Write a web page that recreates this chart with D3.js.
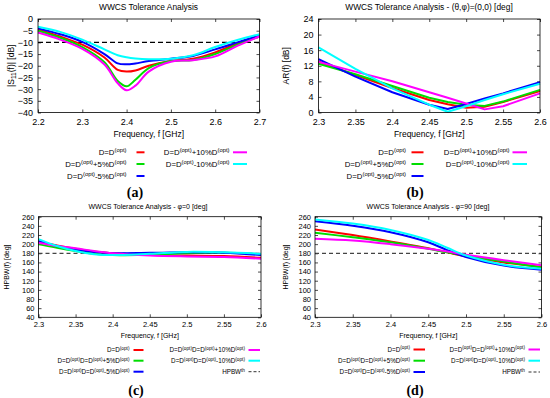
<!DOCTYPE html>
<html><head><meta charset="utf-8">
<script src="https://cdn.jsdelivr.net/npm/d3@7"></script>
<style>
body{margin:0;background:#fff}
svg{display:block}
text{fill:#000}
</style>
</head><body>
<svg id="chart" width="550" height="398" font-family="'Liberation Sans',Arial,Helvetica,sans-serif"></svg>
<script>
// ---------------- DATA ----------------
const seriesColors = ["#ff0000", "#00dd00", "#0000ff", "#ff00ff", "#00ffff"];
const legendLabelsTop = ["D=D{(opt)}", "D=D{(opt)}+5%D{(opt)}", "D=D{(opt)}-5%D{(opt)}", "D=D{(opt)}+10%D{(opt)}", "D=D{(opt)}-10%D{(opt)}"];
const legendLabelsBottom = ["D=D{(opt)}", "D=D{(opt)}D=D{(opt)}+5%D{(opt)}", "D=D{(opt)}D=D{(opt)}-5%D{(opt)}", "D=D{(opt)}D=D{(opt)}+10%D{(opt)}", "D=D{(opt)}D=D{(opt)}-10%D{(opt)}"];
const thresholdLabel = "HPBW{th}";

// (a) |S11| vs frequency
const freqA = [2.2, 2.25, 2.3, 2.35, 2.38, 2.4, 2.42, 2.45, 2.5, 2.55, 2.6, 2.65, 2.7];
const s11_D     = [-4.5, -7.5, -11.0, -16.5, -21.8, -22.5, -22.0, -20.0, -18.0, -17.0, -14.3, -10.5, -7.5];
const s11_p5    = [-5.0, -8.0, -12.0, -18.5, -26.5, -28.8, -26.0, -21.0, -18.0, -17.5, -15.0, -11.0, -7.5];
const s11_m5    = [-4.0, -6.5, -9.8, -15.0, -19.0, -19.4, -19.0, -18.0, -17.0, -15.8, -13.0, -10.0, -7.0];
const s11_p10   = [-5.8, -8.8, -12.8, -19.5, -27.5, -30.5, -28.5, -22.5, -18.3, -17.6, -16.0, -11.5, -7.5];
const s11_m10   = [-3.3, -5.5, -8.8, -13.0, -15.5, -16.4, -16.9, -17.2, -17.0, -15.5, -12.0, -9.0, -6.5];
const s11Threshold = -10;
const xTicksA = [2.2, 2.3, 2.4, 2.5, 2.6, 2.7];
const yTicksA = [0, -5, -10, -15, -20, -25, -30, -35, -40];

// (b) AR vs frequency
const freqB = [2.3, 2.35, 2.4, 2.45, 2.475, 2.5, 2.525, 2.55, 2.6];
const ar_D   = [13.1, 9.6, 6.3, 3.2, 2.1, 1.2, 1.5, 2.7, 5.5];
const ar_p5  = [12.5, 9.8, 6.8, 3.8, 2.7, 2.0, 1.7, 2.8, 5.8];
const ar_m5  = [13.7, 9.2, 5.2, 2.0, 0.9, 2.2, 3.6, 4.9, 7.8];
const ar_p10 = [13.0, 10.5, 8.0, 5.2, 3.8, 2.3, 0.8, 1.6, 4.9];
const ar_m10 = [16.7, 11.2, 6.2, 2.0, 0.2, 1.6, 3.2, 4.7, 7.4];
const xTicksB = [2.3, 2.35, 2.4, 2.45, 2.5, 2.55, 2.6];
const yTicksB = [0, 4, 8, 12, 16, 20, 24];

// (c) HPBW phi=0
const freqC = [2.3, 2.325, 2.35, 2.375, 2.4, 2.45, 2.5, 2.55, 2.6];
const hc_D   = [205, 197, 190, 184, 180, 176, 175, 174, 170];
const hc_p5  = [200, 192, 185, 179, 176, 177, 180, 181, 178];
const hc_m5  = [207, 196, 188, 183, 180, 181, 182, 181, 176];
const hc_p10 = [203, 196, 191, 185, 180, 175, 173, 172, 168];
const hc_m10 = [211, 196, 185, 178, 176, 179, 183, 182, 179];

// (d) HPBW phi=90
const freqD = [2.3, 2.35, 2.4, 2.45, 2.475, 2.5, 2.55, 2.6];
const hd_D   = [232, 220, 206, 191, 182, 173, 160, 150];
const hd_p5  = [225, 215, 204, 190, 182, 175, 162, 149];
const hd_m5  = [250, 240, 226, 204, 187, 172, 153, 144];
const hd_p10 = [212, 208, 200, 190, 184, 177, 165, 154];
const hd_m10 = [254, 245, 231, 209, 192, 175, 155, 146];
const hpbwThreshold = 180;
const xTicksCD = [2.3, 2.35, 2.4, 2.45, 2.5, 2.55, 2.6];
const yTicksCD = [40, 60, 80, 100, 120, 140, 160, 180, 200, 220, 240, 260];

// ---------------- DRAW ----------------
const svg = d3.select("#chart");
const SANS = "'Liberation Sans',Arial,Helvetica,sans-serif";

function rich(textSel, str, supScale) {
  const parts = str.split(/(\{[^}]*\})/).filter(p => p.length);
  const fs = parseFloat(textSel.attr("font-size"));
  let raised = false;
  parts.forEach(p => {
    const t = textSel.append("tspan");
    if (p[0] === "{") {
      t.text(p.slice(1, -1)).attr("font-size", fs * supScale).attr("dy", -fs * 0.38);
      raised = true;
    } else {
      t.text(p);
      if (raised) { t.attr("dy", fs * 0.38); raised = false; }
    }
  });
}

function panel(cfg) {
  const g = svg.append("g");
  const x = d3.scaleLinear().domain(cfg.xDomain).range([cfg.left, cfg.right]);
  const y = d3.scaleLinear().domain(cfg.yDomain).range([cfg.bottom, cfg.top]);
  const tl = 3;
  const axB = d3.axisBottom(x).tickValues(cfg.xTicks).tickSize(-tl).tickPadding(cfg.xPad).tickFormat(cfg.xFmt);
  const axT = d3.axisTop(x).tickValues(cfg.xTicks).tickSize(-tl).tickFormat("");
  const axL = d3.axisLeft(y).tickValues(cfg.yTicks).tickSize(-tl).tickPadding(cfg.yPad).tickFormat(cfg.yFmt);
  const axR = d3.axisRight(y).tickValues(cfg.yTicks).tickSize(-tl).tickFormat("");
  [[axB, `translate(0,${cfg.bottom})`], [axT, `translate(0,${cfg.top})`], [axL, `translate(${cfg.left},0)`], [axR, `translate(${cfg.right},0)`]].forEach(([ax, tr]) => {
    const a = g.append("g").attr("transform", tr).call(ax);
    a.select(".domain").remove();
    a.selectAll("line").attr("stroke", "#000").attr("stroke-width", 0.7);
    a.attr("font-family", SANS).attr("font-size", cfg.tickFs);
    a.selectAll("text").attr("fill", "#000");
  });
  if (cfg.threshold !== undefined) {
    g.append("line").attr("x1", cfg.left).attr("x2", cfg.right)
      .attr("y1", y(cfg.threshold)).attr("y2", y(cfg.threshold))
      .attr("stroke", cfg.thColor).attr("stroke-width", cfg.thWidth).attr("stroke-dasharray", cfg.thDash);
  }
  const line = d3.line().x(d => x(d[0])).y(d => y(d[1])).curve(cfg.curve);
  cfg.series.forEach((vals, i) => {
    g.append("path").datum(cfg.xs.map((f, k) => [f, vals[k]]))
      .attr("d", line).attr("fill", "none").attr("stroke", seriesColors[i])
      .attr("stroke-width", cfg.lw).attr("stroke-linejoin", "round");
  });
  g.append("rect").attr("x", cfg.left).attr("y", cfg.top).attr("width", cfg.right - cfg.left).attr("height", cfg.bottom - cfg.top)
    .attr("fill", "none").attr("stroke", "#000").attr("stroke-width", 0.8);
  g.append("text").attr("x", cfg.titleX).attr("y", cfg.titleY).attr("text-anchor", "middle").attr("font-size", cfg.titleFs).text(cfg.title);
  g.append("text").attr("x", (cfg.left + cfg.right) / 2).attr("y", cfg.xLabY).attr("text-anchor", "middle").attr("font-size", cfg.labFs).text("Frequency, f [GHz]");
  const yl = g.append("text").attr("transform", `translate(${cfg.yLabX},${(cfg.top + cfg.bottom) / 2}) rotate(-90)`)
    .attr("text-anchor", "middle").attr("font-size", cfg.labFs);
  cfg.yLab(yl);
  cfg.legend.forEach(L => {
    const t = g.append("text").attr("x", L.tx).attr("y", L.y + cfg.legFs * 0.35).attr("text-anchor", "end").attr("font-size", cfg.legFs);
    rich(t, L.label, 0.75);
    g.append("line").attr("x1", L.x1).attr("x2", L.x2).attr("y1", L.y).attr("y2", L.y)
      .attr("stroke", L.color).attr("stroke-width", L.w).attr("stroke-dasharray", L.dash || null);
  });
  g.append("text").attr("x", cfg.letterX).attr("y", cfg.letterY).attr("text-anchor", "middle")
    .attr("font-family", "'Liberation Serif','DejaVu Serif',serif").attr("font-weight", "bold").attr("font-size", 14).text(cfg.letter);
}

function legendRows(c1, c2, rows, labels, lw, extra) {
  const out = [];
  const order = [[0, c1, rows[0]], [1, c1, rows[1]], [2, c1, rows[2]], [3, c2, rows[0]], [4, c2, rows[1]]];
  order.forEach(([i, c, y]) => out.push({ label: labels[i], tx: c.tx, x1: c.x1, x2: c.x2, y: y, color: seriesColors[i], w: lw }));
  if (extra) out.push({ label: extra, tx: c2.tx, x1: c2.x1, x2: c2.x2, y: rows[2], color: "#333", w: 1, dash: "3,2" });
  return out;
}

const fmt2 = d => d3.format(".2~f")(d);

// (a)
panel({
  xDomain: [2.2, 2.7], yDomain: [-40, 0], left: 38, right: 259.5, top: 19, bottom: 112.5,
  xTicks: xTicksA, yTicks: yTicksA, xFmt: d => d3.format(".1f")(d), yFmt: d => d3.format("d")(d),
  xPad: 6, yPad: 5, tickFs: 9,
  xs: freqA, series: [s11_D, s11_p5, s11_m5, s11_p10, s11_m10], lw: 2, curve: d3.curveCatmullRom.alpha(0.5),
  threshold: s11Threshold, thColor: "#000", thWidth: 1.3, thDash: "5,3",
  title: "WWCS Tolerance Analysis", titleX: 148.5, titleY: 10, titleFs: 8.4,
  xLabY: 137, labFs: 8.5, yLabX: 14,
  yLab: t => { t.append("tspan").text("|S"); t.append("tspan").text("11").attr("font-size", 6.5).attr("dy", 2); t.append("tspan").text("(f)| [dB]").attr("dy", -2); },
  legFs: 7.8,
  legend: legendRows({ tx: 126.5, x1: 136.5, x2: 144.5 }, { tx: 229.5, x1: 233, x2: 247 }, [152.3, 164, 176], legendLabelsTop, 2),
  letter: "(a)", letterX: 135, letterY: 197
});

// (b)
panel({
  xDomain: [2.3, 2.6], yDomain: [0, 24], left: 318.5, right: 540, top: 19, bottom: 112.5,
  xTicks: xTicksB, yTicks: yTicksB, xFmt: fmt2, yFmt: d => d3.format("d")(d),
  xPad: 6, yPad: 5, tickFs: 9,
  xs: freqB, series: [ar_D, ar_p5, ar_m5, ar_p10, ar_m10], lw: 2, curve: d3.curveLinear,
  title: "WWCS Tolerance Analysis - (\u03b8,\u03c6)=(0,0) [deg]", titleX: 429, titleY: 10, titleFs: 8.4,
  xLabY: 137, labFs: 8.5, yLabX: 289,
  yLab: t => t.text("AR(f) [dB]"),
  legFs: 7.8,
  legend: legendRows({ tx: 406, x1: 411.5, x2: 423.5 }, { tx: 509.5, x1: 512.5, x2: 527 }, [152.3, 164, 176], legendLabelsTop, 2),
  letter: "(b)", letterX: 415, letterY: 197
});

// (c)
panel({
  xDomain: [2.3, 2.6], yDomain: [40, 260], left: 38.5, right: 261, top: 216.7, bottom: 317.3,
  xTicks: xTicksCD, yTicks: yTicksCD, xFmt: fmt2, yFmt: d => d3.format("d")(d),
  xPad: 4, yPad: 4, tickFs: 7.5,
  xs: freqC, series: [hc_D, hc_p5, hc_m5, hc_p10, hc_m10], lw: 2, curve: d3.curveCatmullRom.alpha(0.5),
  threshold: hpbwThreshold, thColor: "#444", thWidth: 1.2, thDash: "4,3",
  title: "WWCS Tolerance Analysis - \u03c6=0 [deg]", titleX: 148, titleY: 209, titleFs: 7,
  xLabY: 338, labFs: 7, yLabX: 9,
  yLab: t => t.text("HPBW(f) [deg]"),
  legFs: 6.3,
  legend: legendRows({ tx: 129.5, x1: 133.5, x2: 143.5 }, { tx: 245, x1: 248.5, x2: 260 }, [350, 360.7, 371.7], legendLabelsBottom, 2, thresholdLabel),
  letter: "(c)", letterX: 136, letterY: 395
});

// (d)
panel({
  xDomain: [2.3, 2.6], yDomain: [40, 260], left: 315, right: 541.5, top: 216.7, bottom: 317.3,
  xTicks: xTicksCD, yTicks: yTicksCD, xFmt: fmt2, yFmt: d => d3.format("d")(d),
  xPad: 4, yPad: 4, tickFs: 7.5,
  xs: freqD, series: [hd_D, hd_p5, hd_m5, hd_p10, hd_m10], lw: 2, curve: d3.curveCatmullRom.alpha(0.5),
  threshold: hpbwThreshold, thColor: "#444", thWidth: 1.2, thDash: "4,3",
  title: "WWCS Tolerance Analysis - \u03c6=90 [deg]", titleX: 428, titleY: 209, titleFs: 7,
  xLabY: 338, labFs: 7, yLabX: 288,
  yLab: t => t.text("HPBW(f) [deg]"),
  legFs: 6.3,
  legend: legendRows({ tx: 410, x1: 413.5, x2: 425 }, { tx: 525, x1: 528.5, x2: 540 }, [349.5, 360.7, 372], legendLabelsBottom, 2, thresholdLabel),
  letter: "(d)", letterX: 415, letterY: 395
});
</script>
</body></html>
